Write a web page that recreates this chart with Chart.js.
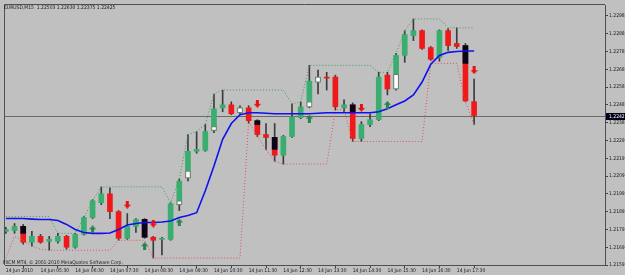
<!DOCTYPE html>
<html>
<head>
<meta charset="utf-8">
<script src="https://cdn.jsdelivr.net/npm/chart.js@4.4.1/dist/chart.umd.min.js"></script>
<style>
  html, body { margin: 0; padding: 0; background: #C0C0C0; }
  #wrap { position: relative; width: 625px; height: 275px; overflow: hidden; }
  canvas { display: block; }
  .note {
    position: absolute; white-space: pre; line-height: 1; color: #1a1a1a;
    font: 5px 'Liberation Sans Narrow', 'DejaVu Sans Condensed', 'Liberation Sans', sans-serif;
  }
</style>
</head>
<body>
<div id="wrap">
  <canvas id="chart" width="625" height="275"></canvas>
  <div class="note" id="head" style="left:4px; top:4px;"></div>
  <div class="note" id="copy" style="left:3px; top:259px;"></div>
</div>
<script>
/* ─── EURUSD M15, 14 Jun 2010, 04:30 .. 18:00 ─── */
const openP = [
  1.21774, 1.21779, 1.21802, 1.21713, 1.21746, 1.21718, 1.21718, 1.21746, 1.21685, 1.21757,
  1.21852, 1.21935, 1.21985, 1.21885, 1.21735, 1.21802, 1.21841, 1.21741, 1.21729, 1.21729,
  1.21924, 1.22074, 1.22224, 1.22229, 1.22341, 1.22468, 1.22485, 1.22441, 1.22468, 1.22396,
  1.22318, 1.22302, 1.22202, 1.22307, 1.22413, 1.22474, 1.22613, 1.22641, 1.22641, 1.22468,
  1.22485, 1.22296, 1.22374, 1.22402, 1.22652, 1.22574, 1.22763, 1.22874, 1.22902, 1.22807,
  1.22752, 1.22902, 1.22830, 1.22818, 1.22503
];
const highP = [
  1.21796, 1.21818, 1.21813, 1.21774, 1.21757, 1.21746, 1.21763, 1.21752, 1.21763, 1.21857,
  1.21952, 1.22024, 1.22018, 1.21891, 1.21874, 1.21846, 1.21846, 1.21746, 1.21741, 1.21935,
  1.22068, 1.22318, 1.22335, 1.22374, 1.22546, 1.22568, 1.22502, 1.22480, 1.22480, 1.22402,
  1.22380, 1.22380, 1.22313, 1.22491, 1.22502, 1.22707, 1.22680, 1.22668, 1.22652, 1.22513,
  1.22496, 1.22391, 1.22435, 1.22668, 1.22668, 1.22774, 1.22902, 1.22968, 1.22907, 1.22813,
  1.22907, 1.22913, 1.22918, 1.22830, 1.22630
];
const lowP = [
  1.21763, 1.21763, 1.21702, 1.21691, 1.21707, 1.21668, 1.21707, 1.21674, 1.21679, 1.21752,
  1.21846, 1.21924, 1.21846, 1.21724, 1.21729, 1.21768, 1.21735, 1.21624, 1.21641, 1.21724,
  1.21891, 1.22057, 1.22213, 1.22224, 1.22329, 1.22446, 1.22430, 1.22435, 1.22380, 1.22307,
  1.22235, 1.22168, 1.22152, 1.22302, 1.22407, 1.22468, 1.22546, 1.22568, 1.22457, 1.22446,
  1.22279, 1.22279, 1.22363, 1.22396, 1.22541, 1.22568, 1.22724, 1.22846, 1.22796, 1.22735,
  1.22730, 1.22791, 1.22802, 1.22502, 1.22375
];
const closeP = [
  1.21785, 1.21802, 1.21713, 1.21746, 1.21713, 1.21729, 1.21746, 1.21685, 1.21757, 1.21852,
  1.21946, 1.21985, 1.21885, 1.21735, 1.21802, 1.21841, 1.21741, 1.21724, 1.21735, 1.21929,
  1.22057, 1.22224, 1.22235, 1.22335, 1.22463, 1.22485, 1.22435, 1.22468, 1.22396, 1.22318,
  1.22302, 1.22202, 1.22307, 1.22418, 1.22474, 1.22618, 1.22641, 1.22635, 1.22474, 1.22485,
  1.22296, 1.22374, 1.22402, 1.22641, 1.22574, 1.22763, 1.22880, 1.22902, 1.22802, 1.22741,
  1.22902, 1.22818, 1.22813, 1.22507, 1.22425
];

// second-colour parts of some bodies (dark top / pale bottom)
const darkBars = [2, 16, 29, 31, 40, 53];
const darkLo = [1.21763, 1.21741, 1.22374, 1.22235, 1.22441, 1.22718];
const darkHi = [1.21802, 1.21841, 1.22396, 1.22302, 1.22485, 1.22818];
const paleBars = [20, 21, 24, 27, 35, 36, 45];
const paleLo = [1.21924, 1.22074, 1.22341, 1.22441, 1.22474, 1.22613, 1.22574];
const paleHi = [1.21946, 1.22113, 1.22363, 1.22468, 1.22502, 1.22641, 1.22657];

// moving average (blue)
const maLine = [
  1.21846, 1.21846, 1.21846, 1.21843, 1.21841, 1.21841, 1.21835, 1.21813, 1.21785, 1.21768,
  1.21763, 1.21763, 1.21765, 1.21785, 1.21810, 1.21818, 1.21824, 1.21824, 1.21827, 1.21832,
  1.21852, 1.21863, 1.21879, 1.22002, 1.22141, 1.22291, 1.22380, 1.22430, 1.22441, 1.22441,
  1.22438, 1.22435, 1.22435, 1.22435, 1.22435, 1.22435, 1.22438, 1.22441, 1.22441, 1.22441,
  1.22441, 1.22441, 1.22441, 1.22446, 1.22463, 1.22485, 1.22507, 1.22541, 1.22613, 1.22713,
  1.22763, 1.22780, 1.22785, 1.22788, 1.22788
];
// channel (green upper, red lower, dotted)
const upperBand = [
  1.21857, 1.21857, 1.21857, 1.21857, 1.21857, 1.21857, 1.21763, 1.21763, 1.21763, 1.21852,
  1.21946, 1.22024, 1.22024, 1.22024, 1.22024, 1.22024, 1.22024, 1.22024, 1.22024, 1.21935,
  1.22068, 1.22318, 1.22335, 1.22374, 1.22546, 1.22568, 1.22568, 1.22568, 1.22568, 1.22568,
  1.22568, 1.22568, 1.22568, 1.22491, 1.22502, 1.22707, 1.22707, 1.22707, 1.22707, 1.22707,
  1.22707, 1.22707, 1.22707, 1.22668, 1.22668, 1.22774, 1.22902, 1.22968, 1.22968, 1.22968,
  1.22968, 1.22918, 1.22918, 1.22918, 1.22918
];
const lowerBand = [
  1.21624, 1.21746, 1.21724, 1.21691, 1.21674, 1.21668, 1.21668, 1.21668, 1.21668, 1.21668,
  1.21668, 1.21668, 1.21668, 1.21724, 1.21724, 1.21724, 1.21724, 1.21624, 1.21624, 1.21624,
  1.21624, 1.21624, 1.21624, 1.21624, 1.21624, 1.21624, 1.21624, 1.21624, 1.22391, 1.22307,
  1.22235, 1.22168, 1.22152, 1.22152, 1.22152, 1.22152, 1.22152, 1.22152, 1.22457, 1.22457,
  1.22279, 1.22279, 1.22279, 1.22279, 1.22279, 1.22279, 1.22279, 1.22279, 1.22279, 1.22718,
  1.22718, 1.22718, 1.22718, 1.22502, 1.22374
];

// signal arrows
const upArrowBars = [10, 16, 20, 35, 44];
const upArrowP = [1.21785, 1.21691, 1.21824, 1.22407, 1.22485];
const downArrowBars = [14, 17, 29, 41, 54];
const downArrowP = [1.21924, 1.21818, 1.22491, 1.22468, 1.22680];

// axes
const tickBars = [0, 4, 8, 12, 16, 20, 24, 28, 32, 36, 40, 44, 48, 52];
const tickLabels = [
  '14 Jun 2010', '14 Jun 05:30', '14 Jun 06:30', '14 Jun 07:30', '14 Jun 08:30',
  '14 Jun 09:30', '14 Jun 10:30', '14 Jun 11:30', '14 Jun 12:30', '14 Jun 13:30',
  '14 Jun 14:30', '14 Jun 15:30', '14 Jun 16:30', '14 Jun 17:30'
];
const priceTicks = [
  1.22985, 1.22885, 1.22785, 1.22685, 1.22585, 1.22485, 1.22385, 1.22285,
  1.22185, 1.22085, 1.21985, 1.21885, 1.21785, 1.21685, 1.21585
];
const priceLabels = [
  '1.22985', '1.22885', '1.22785', '1.22685', '1.22585', '1.22485', '1.22385', '1.22290',
  '1.22190', '1.22090', '1.21990', '1.21890', '1.21790', '1.21690', '1.21590'
];

const GREEN = '#3AAE6E';
const RED = '#F01818';
const WICK = '#3C3C3C';
const FONT = "'Liberation Sans Narrow', 'DejaVu Sans Condensed', 'Liberation Sans', sans-serif";

const last = openP.length - 1;
document.getElementById('head').textContent =
  'EURUSD,M15  ' + [openP[last], highP[last], lowP[last], closeP[last]].map(v => v.toFixed(5)).join(' ');
document.getElementById('copy').textContent = 'FXCM MT4, \u00A9 2001-2010 MetaQuotes Software Corp.';

function arrowIcon(color, up) {
  const c = document.createElement('canvas');
  c.width = 7; c.height = 8;
  const g = c.getContext('2d');
  g.fillStyle = color;
  if (!up) { g.translate(0, 8); g.scale(1, -1); }
  g.beginPath();
  g.moveTo(3.5, 0); g.lineTo(7, 4); g.lineTo(5, 4); g.lineTo(5, 8);
  g.lineTo(2, 8); g.lineTo(2, 4); g.lineTo(0, 4); g.closePath();
  g.fill();
  return c;
}

const idx = openP.map((_, i) => i);
const wicks = idx.map(i => ({ x: i, y: [lowP[i], highP[i]] }));
const bodies = idx.map(i => ({ x: i, y: [Math.min(openP[i], closeP[i]), Math.max(openP[i], closeP[i])] }));
const bodyColors = idx.map(i => (closeP[i] >= openP[i] ? GREEN : RED));

const xMin = -0.1;
const xMax = xMin + 602 / 8.7;

const mtPlugin = {
  id: 'mt4',
  beforeDatasetsDraw(chart) {
    const { ctx, chartArea, scales } = chart;
    const py = Math.round(scales.y.getPixelForValue(closeP[last])) + 0.5;
    ctx.save();
    ctx.strokeStyle = '#6A6A6A';
    ctx.lineWidth = 1;
    ctx.beginPath();
    ctx.moveTo(chartArea.left, py);
    ctx.lineTo(chartArea.right, py);
    ctx.stroke();
    ctx.restore();
  },
  afterDraw(chart) {
    const { ctx, chartArea, scales } = chart;
    ctx.save();
    ctx.strokeStyle = '#505050';
    ctx.lineWidth = 1;
    ctx.beginPath();
    ctx.moveTo(chartArea.left - 0.5, chartArea.bottom);
    ctx.lineTo(chartArea.left - 0.5, chartArea.top - 0.5);
    ctx.lineTo(chartArea.right, chartArea.top - 0.5);
    ctx.stroke();
    // current price box
    const py = Math.round(scales.y.getPixelForValue(closeP[last]));
    ctx.fillStyle = '#000018';
    ctx.fillRect(chartArea.right + 1, py - 3, 20, 7);
    ctx.fillStyle = '#FFFFFF';
    ctx.font = '5px ' + FONT;
    ctx.textBaseline = 'middle';
    ctx.fillText(closeP[last].toFixed(5), chartArea.right + 4, py + 0.5);
    ctx.restore();
  }
};

const lineDs = (label, values, color, width, dash, order) => ({
  type: 'line',
  label,
  data: idx.map(i => ({ x: i, y: values[i] })),
  borderColor: color,
  borderWidth: width,
  borderDash: dash,
  pointRadius: 0,
  tension: 0,
  order,
});

new Chart(document.getElementById('chart'), {
  type: 'bar',
  data: {
    datasets: [
      {
        type: 'scatter', label: 'up', order: 0,
        data: upArrowBars.map((b, k) => ({ x: b, y: upArrowP[k] })),
        pointStyle: arrowIcon('#23854A', true), pointRadius: 4,
      },
      {
        type: 'scatter', label: 'down', order: 0,
        data: downArrowBars.map((b, k) => ({ x: b, y: downArrowP[k] })),
        pointStyle: arrowIcon('#E81010', false), pointRadius: 4,
      },
      lineDs('MA', maLine, '#1010F0', 1.6, [], 1),
      lineDs('Upper', upperBand, '#3E9A5E', 1, [1, 2], 2),
      lineDs('Lower', lowerBand, '#E0505A', 1, [1, 2], 2),
      {
        label: 'dark', order: 3, grouped: false, barThickness: 5, borderSkipped: false,
        data: darkBars.map((b, k) => ({ x: b, y: [darkLo[k], darkHi[k]] })),
        backgroundColor: '#06061A', borderWidth: 0,
      },
      {
        label: 'pale', order: 3, grouped: false, barThickness: 5, borderSkipped: false,
        data: paleBars.map((b, k) => ({ x: b, y: [paleLo[k], paleHi[k]] })),
        backgroundColor: '#FFFFFF', borderColor: '#7A7A7A', borderWidth: 1,
      },
      {
        label: 'bodies', order: 4, grouped: false, barThickness: 5, minBarLength: 1,
        borderSkipped: false, data: bodies, backgroundColor: bodyColors, borderWidth: 0,
      },
      {
        label: 'wicks', order: 5, grouped: false, barThickness: 1, minBarLength: 1,
        data: wicks, backgroundColor: WICK, borderWidth: 0,
      },
    ],
  },
  options: {
    responsive: false,
    animation: false,
    events: [],
    layout: { padding: { left: 3, top: 2, right: 0, bottom: 0 } },
    plugins: { legend: { display: false }, tooltip: { enabled: false } },
    scales: {
      x: {
        type: 'linear', min: xMin, max: xMax, offset: false,
        afterBuildTicks: s => { s.ticks = tickBars.map(v => ({ value: v })); },
        afterFit: s => { s.height = 10; s.paddingLeft = 0; s.paddingRight = 0; },
        grid: { drawOnChartArea: false, drawTicks: true, tickLength: 3, color: '#404040' },
        border: { color: '#505050' },
        ticks: {
          autoSkip: false, maxRotation: 0, minRotation: 0, align: 'start', padding: 0,
          color: '#1a1a1a', font: { family: FONT, size: 5 },
          callback: (v, i) => tickLabels[i],
        },
      },
      y: {
        position: 'right', min: 1.21585, max: 1.21585 + 263 / 18000,
        afterBuildTicks: s => { s.ticks = priceTicks.map(v => ({ value: v })); },
        afterFit: s => { s.width = 20; s.paddingTop = 0; s.paddingBottom = 0; },
        grid: { drawOnChartArea: false, drawTicks: true, tickLength: 3, color: '#404040' },
        border: { color: '#505050' },
        ticks: {
          autoSkip: false, padding: 1, color: '#1a1a1a', font: { family: FONT, size: 5 },
          callback: (v, i) => priceLabels[i],
        },
      },
    },
  },
  plugins: [mtPlugin],
});
</script>
</body>
</html>
